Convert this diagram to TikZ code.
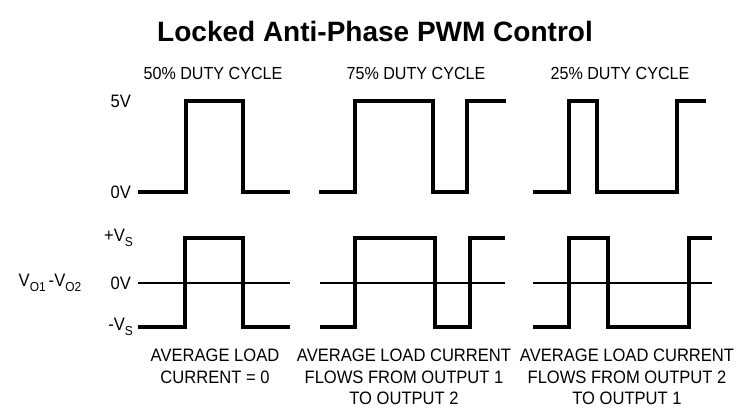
\documentclass[tikz,border=0pt]{standalone}
\usepackage{fontspec}
\setmainfont{Liberation Sans}
\newfontfamily\lblfont[FakeStretch=0.92]{Liberation Sans}
\newcommand\lowsub[1]{\raisebox{-0.5ex}{\fontsize{13}{13}\selectfont #1}}
\begin{document}
\begin{tikzpicture}[x=1pt,y=-1pt,
  wave/.style={line width=3.8pt, line join=miter, line cap=butt},
  zeroline/.style={line width=2.2pt},
  lbl/.style={font=\lblfont\fontsize{18}{21.5}\selectfont, inner sep=0pt},
  hdr/.style={font=\lblfont\fontsize{17.5}{21}\selectfont, inner sep=0pt},
  titlestyle/.style={font=\bfseries\fontsize{28}{31}\selectfont, inner sep=0pt}]
\useasboundingbox (0,0) rectangle (738,419);
\fill[white] (0,0) rectangle (738,419);
% title
\node[titlestyle] (title) at (375,31) {Locked Anti-Phase PWM Control};
% headers
\node[hdr] (h1) at (213,73) {50\% DUTY CYCLE};
\node[hdr] (h2) at (416,73) {75\% DUTY CYCLE};
\node[hdr] (h3) at (620,73) {25\% DUTY CYCLE};
% left labels
\node[lbl, anchor=east] (l5v) at (131,101) {5V};
\node[lbl, anchor=east] (l0va) at (131,192) {0V};
\node[lbl, anchor=east] (lpv) at (133,238) {+V\lowsub{S}};
\node[lbl, anchor=east] (l0vb) at (131,283) {0V};
\node[lbl, anchor=east] (lmv) at (133,327) {-V\lowsub{S}};
\node[lbl] (vdiff) at (50,283) {V\lowsub{O1}\,-V\lowsub{O2}};
% top waveforms
\draw[wave] (138,192) -- (186,192) -- (186,101) -- (243,101) -- (243,192) -- (290,192);
\draw[wave] (319,192) -- (355,192) -- (355,101) -- (433,101) -- (433,192) -- (467,192) -- (467,101) -- (506,101);
\draw[wave] (533,192) -- (569,192) -- (569,101) -- (597,101) -- (597,192) -- (677,192) -- (677,101) -- (706,101);
% bottom zero lines
\draw[zeroline] (138,283) -- (290,283);
\draw[zeroline] (320,283) -- (505,283);
\draw[zeroline] (533,283) -- (712,283);
% bottom waveforms
\draw[wave] (138,327) -- (185,327) -- (185,238) -- (243,238) -- (243,327) -- (290,327);
\draw[wave] (320,327) -- (355,327) -- (355,238) -- (435,238) -- (435,327) -- (470,327) -- (470,238) -- (505,238);
\draw[wave] (533,327) -- (569,327) -- (569,238) -- (608,238) -- (608,327) -- (689,327) -- (689,238) -- (712,238);
% bottom captions
\node[lbl, align=center, anchor=north] (c1) at (215,349) {AVERAGE LOAD\\CURRENT = 0};
\node[lbl, align=center, anchor=north] (c2) at (404,349) {AVERAGE LOAD CURRENT\\FLOWS FROM OUTPUT 1\\TO OUTPUT 2};
\node[lbl, align=center, anchor=north] (c3) at (627,349) {AVERAGE LOAD CURRENT\\FLOWS FROM OUTPUT 2\\TO OUTPUT 1};
\end{tikzpicture}
\end{document}
